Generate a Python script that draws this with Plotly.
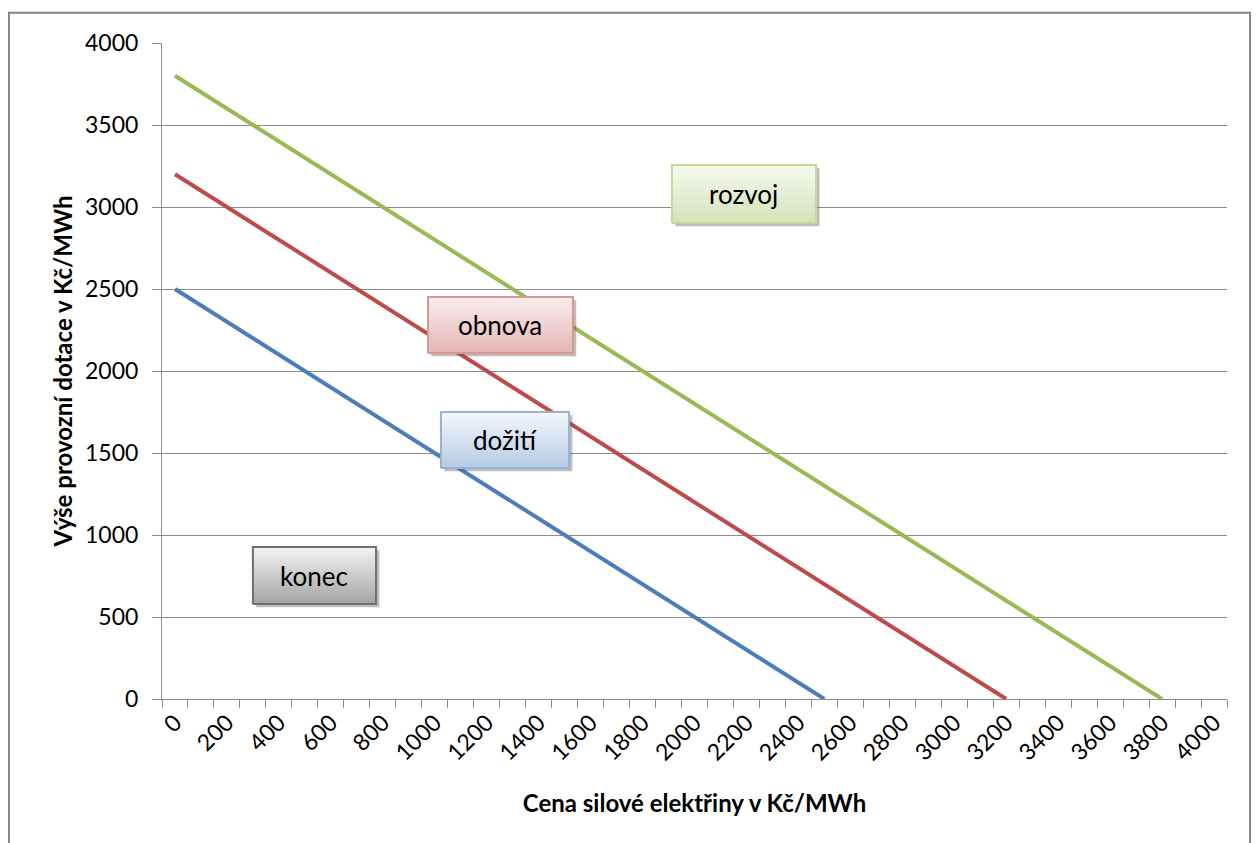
import plotly.graph_objects as go

# cena silové elektřiny (Kč/MWh)
cena_dozit = [0, 100, 200, 300, 400, 500, 600, 700, 800, 900, 1000, 1100, 1200,
              1300, 1400, 1500, 1600, 1700, 1800, 1900, 2000, 2100, 2200, 2300,
              2400, 2500]
dotace_dozit = [2500, 2400, 2300, 2200, 2100, 2000, 1900, 1800, 1700, 1600, 1500,
                1400, 1300, 1200, 1100, 1000, 900, 800, 700, 600, 500, 400, 300,
                200, 100, 0]

cena_obnova = [0, 100, 200, 300, 400, 500, 600, 700, 800, 900, 1000, 1100, 1200,
               1300, 1400, 1500, 1600, 1700, 1800, 1900, 2000, 2100, 2200, 2300,
               2400, 2500, 2600, 2700, 2800, 2900, 3000, 3100, 3200]
dotace_obnova = [3200, 3100, 3000, 2900, 2800, 2700, 2600, 2500, 2400, 2300, 2200,
                 2100, 2000, 1900, 1800, 1700, 1600, 1500, 1400, 1300, 1200, 1100,
                 1000, 900, 800, 700, 600, 500, 400, 300, 200, 100, 0]

cena_rozvoj = [0, 100, 200, 300, 400, 500, 600, 700, 800, 900, 1000, 1100, 1200,
               1300, 1400, 1500, 1600, 1700, 1800, 1900, 2000, 2100, 2200, 2300,
               2400, 2500, 2600, 2700, 2800, 2900, 3000, 3100, 3200, 3300, 3400,
               3500, 3600, 3700, 3800]
dotace_rozvoj = [3800, 3700, 3600, 3500, 3400, 3300, 3200, 3100, 3000, 2900, 2800,
                 2700, 2600, 2500, 2400, 2300, 2200, 2100, 2000, 1900, 1800, 1700,
                 1600, 1500, 1400, 1300, 1200, 1100, 1000, 900, 800, 700, 600, 500,
                 400, 300, 200, 100, 0]

x_labels = ["0", "200", "400", "600", "800", "1000", "1200", "1400", "1600", "1800",
            "2000", "2200", "2400", "2600", "2800", "3000", "3200", "3400", "3600",
            "3800", "4000"]

FONT = "Lato"
GRID = "#8c8c8c"

fig = go.Figure()
for xs, ys, color in [
    (cena_dozit, dotace_dozit, "#4A7EBB"),
    (cena_obnova, dotace_obnova, "#BE4B48"),
    (cena_rozvoj, dotace_rozvoj, "#98B954"),
]:
    fig.add_trace(go.Scatter(x=xs, y=ys, mode="lines",
                             line=dict(color=color, width=4),
                             hoverinfo="skip"))

# popisky v rámečcích (x0, x1, y0, y1 v souřadnicích grafu)
boxes = [
    ("rozvoj", (1913, 2468, 2902, 3256), "#c3d69b", "#f6f9ef", "#d4e2b8"),
    ("obnova", (974, 1532, 2110, 2451), "#d99694", "#faeeee", "#e4b5b4"),
    ("dožití", (1024, 1517, 1409, 1750), "#95b3d7", "#f5f8fc", "#b5cae4"),
    ("konec", (300, 774, 579, 927), "#6e6e6e", "#f4f4f4", "#a3a3a3"),
]
for text, (x0, x1, y0, y1), border, top, bottom in boxes:
    dx, dy = 13, 20
    fig.add_trace(go.Scatter(
        x=[x0 + dx, x1 + dx, x1 + dx, x0 + dx, x0 + dx],
        y=[y0 - dy, y0 - dy, y1 - dy, y1 - dy, y0 - dy],
        mode="lines", fill="toself", line=dict(width=0),
        fillcolor="rgba(90,90,90,0.4)", hoverinfo="skip"))
    fig.add_trace(go.Scatter(
        x=[x0, x1, x1, x0, x0], y=[y0, y0, y1, y1, y0],
        mode="lines", fill="toself", line=dict(color=border, width=2),
        fillgradient=dict(type="vertical",
                          colorscale=[[0, bottom], [1, top]]),
        hoverinfo="skip"))
    fig.add_annotation(x=(x0 + x1) / 2, y=(y0 + y1) / 2, text=text,
                       showarrow=False,
                       font=dict(family=FONT, size=26, color="black"))

# rámeček celého grafu
fig.add_shape(type="rect", xref="paper", yref="paper",
              x0=-0.1437, x1=1.0216, y0=-0.23, y1=1.046,
              line=dict(color="#868686", width=2))

# stránka má okraj 8 px, proto je obrázek o 8 px menší
fig.update_layout(
    width=1252, height=835,
    margin=dict(l=154, r=33, t=35, b=144),
    paper_bgcolor="white", plot_bgcolor="white",
    showlegend=False,
    font=dict(family=FONT, size=23, color="black"),
)
fig.update_xaxes(
    range=[-50, 4050],
    automargin=False,
    tickmode="array",
    tickvals=[int(s) for s in x_labels],
    ticktext=x_labels,
    tickangle=-45,
    ticks="",
    showgrid=False, zeroline=False,
    showline=True, linecolor=GRID, linewidth=1,
    minor=dict(tickmode="array", tickvals=list(range(-50, 4100, 100)),
               ticks="outside", ticklen=8, tickcolor=GRID, showgrid=False),
    title=dict(text="<b>Cena silové elektřiny v Kč/MWh</b>",
               font=dict(family=FONT, size=24), standoff=30),
)
fig.update_yaxes(
    range=[0, 4000], dtick=500,
    automargin=False,
    ticks="outside", ticklen=9, tickcolor=GRID,
    ticklabelstandoff=9,
    showgrid=True, gridcolor=GRID, gridwidth=1,
    zeroline=False,
    showline=True, linecolor=GRID, linewidth=1,
    title=dict(text="<b>Výše provozní dotace v Kč/MWh</b>",
               font=dict(family=FONT, size=24), standoff=5),
)

fig.write_html("out.html")
